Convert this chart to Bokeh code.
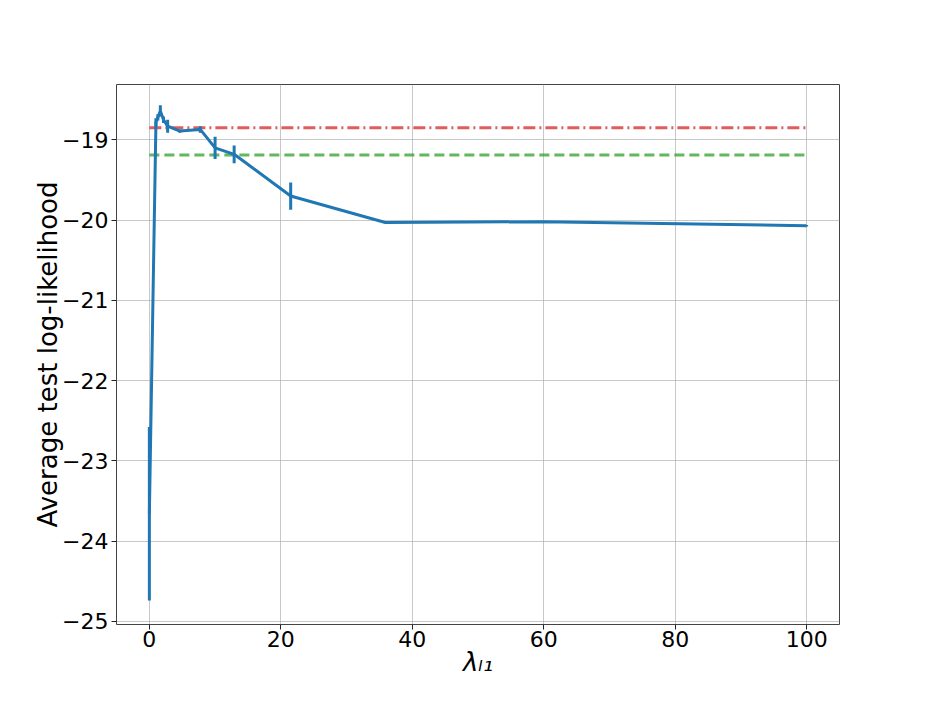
from bokeh.plotting import figure
from bokeh.models import Range1d, FixedTicker, ColumnDataSource
from bokeh.embed import file_html
from bokeh.resources import INLINE

# data
lam = [0.0, 1.0, 1.29, 1.67, 2.15, 2.78, 4.64, 7.74, 10.0, 12.9, 21.5, 35.9, 59.9, 100.0]
mean_ll = [-23.66, -18.78, -18.72, -18.64, -18.75, -18.83, -18.89, -18.87,
           -19.10, -19.18, -19.70, -20.03, -20.02, -20.07]
err_ll = [1.08, 0.05, 0.04, 0.07, 0.04, 0.08, 0.02, 0.04, 0.14, 0.11, 0.17, 0.01, 0.01, 0.01]
ref_red = -18.85
ref_green = -19.19
ref_x = [0.0, 100.0]
x_ticks = [0, 20, 40, 60, 80, 100]
y_ticks = [-25, -24, -23, -22, -21, -20, -19]

lo = [m - e for m, e in zip(mean_ll, err_ll)]
hi = [m + e for m, e in zip(mean_ll, err_ll)]
src = ColumnDataSource(dict(x=lam, y=mean_ll, lo=lo, hi=hi))

p = figure(width=918, height=693, output_backend="svg", toolbar_location=None,
           x_range=Range1d(-5.0, 105.0), y_range=Range1d(-25.04, -18.31),
           min_border_left=116, min_border_right=79, min_border_top=84, min_border_bottom=69)

p.line(ref_x, [ref_red, ref_red], line_color="#d62728", line_alpha=0.75, line_width=3,
       line_dash="12 4 2 4")
p.line(ref_x, [ref_green, ref_green], line_color="#2ca02c", line_alpha=0.75, line_width=3,
       line_dash="10 5")

p.line("x", "y", source=src, line_color="#1f77b4", line_width=3)
p.segment(x0="x", y0="lo", x1="x", y1="hi", source=src, line_color="#1f77b4", line_width=3)

# styling
p.outline_line_color="#444444"
p.outline_line_width=1
p.background_fill_color="white"
p.border_fill_color="white"
for g in (p.xgrid, p.ygrid):
    g.grid_line_color="#b0b0b0"
    g.grid_line_alpha=0.7
    g.grid_line_width=1

p.xaxis.ticker = FixedTicker(ticks=x_ticks)
p.yaxis.ticker = FixedTicker(ticks=y_ticks)
p.yaxis.major_label_overrides = {t: "\u2212" + str(abs(t)) for t in y_ticks}
for ax in (p.xaxis[0], p.yaxis[0]):
    ax.axis_line_color = None
    ax.major_tick_line_color = "#222222"
    ax.major_tick_out = 5
    ax.major_tick_in = 0
    ax.minor_tick_line_color = None
    ax.major_label_text_font = "DejaVu Sans"
    ax.major_label_text_font_size = "22px"
    ax.major_label_text_color = "black"
    ax.axis_label_text_font = "DejaVu Sans"
    ax.axis_label_text_font_style = "normal"
    ax.axis_label_text_font_size = "26px"
    ax.axis_label_text_color = "black"

p.xaxis.axis_label = "\u03bb\u2097\u2081"
p.xaxis.axis_label_text_font_style = "italic"
p.yaxis.axis_label = "Average test log-likelihood"
p.xaxis.major_label_standoff = 1
p.yaxis.major_label_standoff = 3
p.xaxis.axis_label_standoff = -3
p.yaxis.axis_label_standoff = -4

open("out.html", "w").write(file_html(p, INLINE))
